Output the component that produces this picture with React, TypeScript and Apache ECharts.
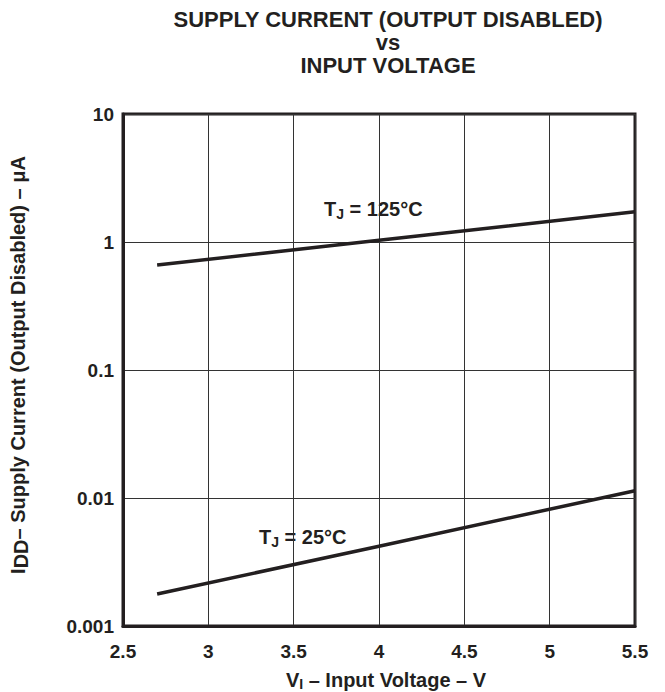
import React, { useEffect, useRef } from "react";
import * as echarts from "echarts";

const titleLines = ["SUPPLY CURRENT (OUTPUT DISABLED)", "vs", "INPUT VOLTAGE"];
const xTicks = [2.5, 3, 3.5, 4, 4.5, 5, 5.5];
const yTicks = [0.001, 0.01, 0.1, 1, 10];
const voltage = [2.7, 4.0, 5.5];
const current125 = [0.66, 1.03, 1.72];
const current25 = [0.00178, 0.0042, 0.0114];
const seriesNames = ["TJ = 125°C", "TJ = 25°C"];

export default function App() {
  const ref = useRef<HTMLDivElement>(null);
  useEffect(() => {
    document.body.style.margin = "0";
    const chart = echarts.init(ref.current!, undefined, { renderer: "svg" });
    const font = "Liberation Sans, Arial, Helvetica, sans-serif";
    const ink = "#231f20";
    const big = (fs: number) => ({ fontSize: fs, fontWeight: "bold", color: ink, fontFamily: font });
    chart.setOption({
      animation: false,
      backgroundColor: "#fff",
      textStyle: { fontFamily: font },
      title: {
        text: titleLines.join("\n"),
        left: 383,
        top: 3,
        textAlign: "center",
        textStyle: { fontFamily: font, fontSize: 22, fontWeight: "bold", color: ink, lineHeight: 23 },
      },
      grid: {
        left: 123, right: 30, top: 114, bottom: 66,
        containLabel: false,
        outerBoundsMode: "none",
        show: true, borderColor: ink, borderWidth: 3, backgroundColor: "transparent",
      },
      xAxis: {
        type: "value", min: 2.5, max: 5.5, interval: 0.5,
        axisLine: { show: true, lineStyle: { color: ink, width: 3 } },
        axisTick: { show: false },
        splitLine: { show: true, lineStyle: { color: "#333", width: 1 } },
        axisLabel: {
          margin: 16, ...big(19),
          formatter: (v: number) => (xTicks.includes(v) ? String(v) : ""),
        },
        name: "{a|V}{s|I}{a| – Input Voltage – V}",
        nameLocation: "middle",
        nameGap: 42,
        nameTextStyle: {
          padding: [0, 0, 0, 14],
          rich: {
            a: big(20),
            s: { ...big(14), padding: [9, 0, 0, 0] },
          },
        },
      },
      yAxis: {
        type: "log", logBase: 10, min: 0.001, max: 10,
        axisLine: { show: true, lineStyle: { color: ink, width: 3 } },
        axisTick: { show: false },
        minorSplitLine: { show: false },
        splitLine: { show: true, lineStyle: { color: "#333", width: 1 } },
        axisLabel: {
          margin: 9, ...big(19),
          formatter: (v: number) => {
            const t = yTicks.find((y) => Math.abs(Math.log10(y) - Math.log10(v)) < 1e-6);
            return t !== undefined ? String(t) : "";
          },
        },
        name: "{s|I}{d|DD}{a|– Supply Current (Output Disabled) – μA}",
        nameLocation: "middle",
        nameGap: 92,
        nameRotate: 90,
        nameTextStyle: {
          padding: [0, 0, 0, 10],
          rich: {
            a: big(20),
            s: big(20),
            d: { ...big(20), padding: [7, 0, 0, 0] },
          },
        },
      },
      series: [
        {
          name: seriesNames[0], type: "line", symbol: "none",
          data: voltage.map((v, i) => [v, current125[i]]),
          lineStyle: { color: ink, width: 3.5 },
        },
        {
          name: seriesNames[1], type: "line", symbol: "none",
          data: voltage.map((v, i) => [v, current25[i]]),
          lineStyle: { color: ink, width: 3.5 },
        },
      ],
      graphic: [
        {
          type: "text", left: 324, top: 199,
          style: {
            text: "{a|T}{s|J}{a| = 125°C}",
            rich: {
              a: { fontSize: 20, fontWeight: "bold", fill: ink, fontFamily: font },
              s: { fontSize: 14, fontWeight: "bold", fill: ink, fontFamily: font, padding: [9, 0, 0, 0] },
            },
          },
        },
        {
          type: "text", left: 259, top: 527,
          style: {
            text: "{a|T}{s|J}{a| = 25°C}",
            rich: {
              a: { fontSize: 20, fontWeight: "bold", fill: ink, fontFamily: font },
              s: { fontSize: 14, fontWeight: "bold", fill: ink, fontFamily: font, padding: [9, 0, 0, 0] },
            },
          },
        },
      ],
    });
    return () => chart.dispose();
  }, []);
  return <div ref={ref} style={{ width: 665, height: 692 }} />;
}
